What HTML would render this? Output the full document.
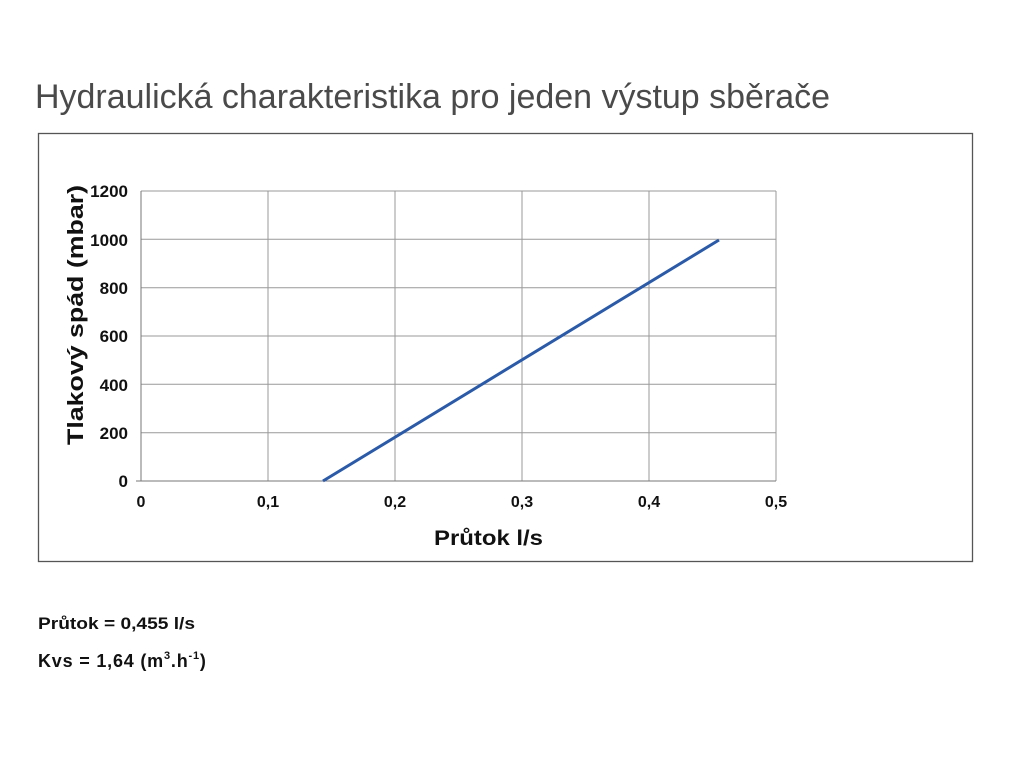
<!DOCTYPE html>
<html><head><meta charset="utf-8"><style>
html,body{margin:0;padding:0;background:#fff;width:1024px;height:768px;overflow:hidden}
</style></head><body>
<svg width="1024" height="768" xmlns="http://www.w3.org/2000/svg" font-family="Liberation Sans, sans-serif">
<text x="35" y="108" font-size="34" fill="#4a4a4a" textLength="795" lengthAdjust="spacingAndGlyphs">Hydraulická charakteristika pro jeden výstup sběrače</text>
<rect x="38.5" y="133.5" width="934" height="428" fill="none" stroke="#555" stroke-width="1.3"/>
<g stroke="#999" stroke-width="1">
<line x1="141" y1="191" x2="776" y2="191"/>
<line x1="141" y1="239.3" x2="776" y2="239.3"/>
<line x1="141" y1="287.7" x2="776" y2="287.7"/>
<line x1="141" y1="336" x2="776" y2="336"/>
<line x1="141" y1="384.3" x2="776" y2="384.3"/>
<line x1="141" y1="432.7" x2="776" y2="432.7"/>
<line x1="268" y1="191" x2="268" y2="481"/>
<line x1="395" y1="191" x2="395" y2="481"/>
<line x1="522" y1="191" x2="522" y2="481"/>
<line x1="649" y1="191" x2="649" y2="481"/>
<line x1="776" y1="191" x2="776" y2="481"/>
</g>
<line x1="141" y1="191" x2="141" y2="481" stroke="#777" stroke-width="1"/>
<line x1="136" y1="481" x2="776" y2="481" stroke="#777" stroke-width="1"/>
<g font-size="17" font-weight="bold" fill="#111" text-anchor="end">
<text x="128" y="197">1200</text><text x="128" y="246">1000</text><text x="128" y="294">800</text>
<text x="128" y="342">600</text><text x="128" y="391">400</text><text x="128" y="439">200</text><text x="128" y="487">0</text>
</g>
<g font-size="16" font-weight="bold" fill="#111" text-anchor="middle">
<text x="141" y="507">0</text><text x="268" y="507">0,1</text><text x="395" y="507">0,2</text>
<text x="522" y="507">0,3</text><text x="649" y="507">0,4</text><text x="776" y="507">0,5</text>
</g>
<text x="434" y="545" font-size="21" font-weight="bold" fill="#111" textLength="109" lengthAdjust="spacingAndGlyphs">Průtok l/s</text>
<text transform="translate(83,445) rotate(-90)" font-size="22" font-weight="bold" fill="#111" textLength="260" lengthAdjust="spacingAndGlyphs">Tlakový spád (mbar)</text>
<line x1="323" y1="481" x2="719" y2="240" stroke="#2a5aa8" stroke-width="3"/>
<text x="38" y="629" font-size="17" font-weight="bold" fill="#111" textLength="157" lengthAdjust="spacingAndGlyphs">Průtok = 0,455 l/s</text>
<text x="38" y="667" font-size="18" font-weight="bold" fill="#111" letter-spacing="0.8">Kvs = 1,64 (m<tspan font-size="11" dy="-8">3</tspan><tspan dy="8">.h</tspan><tspan font-size="11" dy="-8">-1</tspan><tspan dy="8">)</tspan></text>
</svg>
</body></html>
